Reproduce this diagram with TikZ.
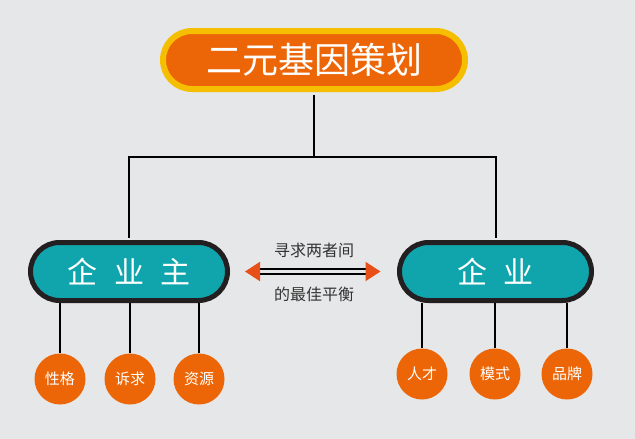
\documentclass[tikz,border=0pt]{standalone}
\usepackage{fontspec}
\setmainfont{Noto Sans CJK SC}
\usetikzlibrary{arrows.meta}

\definecolor{bggray}{HTML}{E6E7E8}
\definecolor{brandorange}{HTML}{EC6608}
\definecolor{sunyellow}{HTML}{F6BE00}
\definecolor{seateal}{HTML}{10A5AC}
\definecolor{inkdark}{HTML}{231F20}
\definecolor{arrowred}{HTML}{E8501A}

\begin{document}
\begin{tikzpicture}[
    x=1pt,
    y=-1pt,
    every node/.style={text=white},
    titlepill/.style={rectangle, rounded corners=29pt, draw=sunyellow, fill=brandorange, line width=6pt, minimum width=302pt, minimum height=58pt, font=\fontsize{36}{40}\selectfont},
    sidepill/.style={rectangle, rounded corners=29pt, draw=inkdark, fill=seateal, line width=5pt, minimum height=58pt, font=\fontsize{30}{34}\selectfont},
    factor/.style={circle, fill=brandorange, minimum size=51pt, inner sep=0pt, font=\fontsize{15}{18}\selectfont},
    note/.style={text=black!80, font=\fontsize{16}{19}\selectfont},
    link/.style={draw=black, line width=2pt},
    balance/.style={draw=black, line width=2pt, double=bggray, double distance=3.6pt,
        {Triangle[length=15pt, width=19pt, color=arrowred]}-{Triangle[length=15pt, width=19pt, color=arrowred]}}
]
    \fill[bggray] (0,0) rectangle (635,439);
    \useasboundingbox (0,0) rectangle (635,439);

    % tree
    \node[titlepill] (title) at (314,60) {二元基因策划};
    \node[sidepill, minimum width=197pt] (owner) at (129,271.5) {企\hspace{.55em}业\hspace{.55em}主};
    \node[sidepill, minimum width=192pt] (firm) at (495.5,271.5) {企\hspace{.55em}业};
    \coordinate (hub) at (314,157);

    \draw[link, shorten <=3pt] (title.south) -- (hub);
    \draw[link, shorten >=2.5pt] (hub) -| (owner.north);
    \draw[link, shorten >=2.5pt] (hub) -| (firm.north);

    % balance arrow
    \draw[balance, shorten <=15pt, shorten >=16.5pt] (owner.east) -- (firm.west);
    \node[note] (seek) at (314,250) {寻求两者间};
    \node[note] (best) at (314,294) {的最佳平衡};

    % factors
    \foreach \n/\x/\lbl in {o1/60/性格, o2/130/诉求, o3/199/资源}{
        \node[factor] (\n) at (\x,379) {\lbl};
        \draw[link] (\n.north) -- (\n.north |- owner.south);
    }
    \foreach \n/\x/\lbl in {f1/422/人才, f2/495/模式, f3/567/品牌}{
        \node[factor] (\n) at (\x,374) {\lbl};
        \draw[link] (\n.north) -- (\n.north |- firm.south);
    }

\end{tikzpicture}
\end{document}
